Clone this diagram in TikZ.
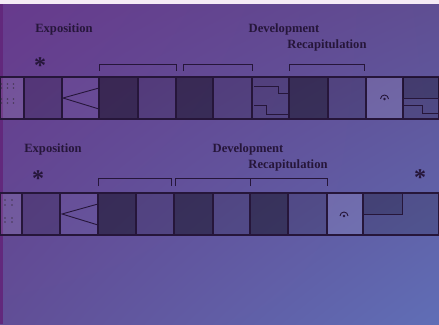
\documentclass[tikz,border=0pt]{standalone}
\usepackage{fontspec}
\setmainfont{Liberation Serif}
\usetikzlibrary{positioning,calc,shadings}
\definecolor{bgtl}{RGB}{103,58,140}
\definecolor{bgtr}{RGB}{95,78,146}
\definecolor{bgbl}{RGB}{97,78,150}
\definecolor{bgbr}{RGB}{96,110,182}
\definecolor{edgeband}{RGB}{98,40,124}
\definecolor{ink}{RGB}{38,22,58}

\begin{document}
\begin{tikzpicture}[
    x=1pt, y=-1pt,
    cell/.style={
      rectangle,
      draw=ink,
      line width=1.1pt,
      inner sep=0pt,
      outer sep=0pt,
      minimum height=42pt
    },
    darkcell/.style={fill=black, fill opacity=0.42},
    midcell/.style={fill=black, fill opacity=0.16},
    lightcell/.style={fill=white, fill opacity=0.03},
    palecell/.style={fill=white, fill opacity=0.10},
    section/.style={
      font=\fontsize{12.6}{14}\selectfont\bfseries,
      text=ink,
      inner sep=0pt
    },
    star/.style={
      font=\fontsize{24}{24}\selectfont\bfseries,
      text=ink,
      inner sep=0pt
    },
    bracketline/.style={
      draw=ink,
      line width=0.9pt
    },
    detail/.style={
      draw=ink,
      line width=0.9pt
    }
  ]

  % Background
  \useasboundingbox (0,0) rectangle (439,324);
  \shade[upper left=bgtl, upper right=bgtr, lower left=bgbl, lower right=bgbr]
    (0,0) rectangle (439,324);
  \fill[white!92!violet] (0,0) rectangle (439,4);
  \fill[edgeband] (0,4) rectangle (3,324);

  % Row 1: cells
  \foreach \name/\l/\r/\kind in {
      a1/0/24/palecell, a2/24/62/midcell, a3/62/99/lightcell,
      a4/99/138/darkcell, a5/138/176/midcell, a6/176/213/darkcell,
      a7/213/252/midcell, a8/252/289/midcell, a9/289/328/darkcell,
      a10/328/366/midcell, a11/366/403/palecell, a12/403/439/midcell}
    \node[cell,\kind, minimum width={(\r-\l)*1pt}] (\name) at ({(\l+\r)/2},98) {};

  % Row 1: cell details
  \foreach \dx in {1.5,7.5,13.5}
    \foreach \dy in {84,88,99,103}
      \fill[ink!85] (\dx,\dy) circle[radius=0.8pt];
  \draw[detail] (a3.north east) ++(0,11) -- (63,98) -- (99,109);
  \draw[detail] (254,86) -- (278,86) -- (278,93) -- (288,93);
  \draw[detail] (254,105) -- (266,105) -- (266,114) -- (288,114);
  \coordinate (ferm1) at (a11.center);
  \draw[detail,line width=0.9pt] ([xshift=-4pt,yshift=-1pt]ferm1)
    arc[start angle=180,end angle=0,radius=4pt];
  \fill[ink] ([yshift=-1pt]ferm1) circle[radius=1.3pt];
  \fill[black,fill opacity=0.14] (403,77) rectangle (439,98);
  \draw[detail] (403,98) -- (439,98);
  \draw[detail] (403,105) -- (422,105) -- (422,113) -- (439,113);

  % Row 1: brackets and labels
  \draw[bracketline] ([yshift=6pt]a4.north west) -- ++(0,-7)
    -| ([yshift=6pt]a5.north east);
  \draw[bracketline] ([xshift=7pt,yshift=6pt]a6.north west) -- ++(0,-7)
    -| ([yshift=6pt]a7.north east);
  \draw[bracketline] ([yshift=6pt]a9.north west) -- ++(0,-7)
    -| ([xshift=-2pt,yshift=6pt]a10.north east);

  \node[section] (expo1) at (64,29) {Exposition};
  \node[section] (dev1) at (284,29) {Development};
  \node[section] (recap1) at (327,45) {Recapitulation};
  \node[star] (star1) at (40,66) {*};

  % Row 2: cells
  \foreach \name/\l/\r/\kind in {
      b1/0/22/palecell, b2/22/60/midcell, b3/60/98/lightcell,
      b4/98/136/darkcell, b5/136/174/midcell, b6/174/213/darkcell,
      b7/213/250/midcell, b8/250/288/darkcell, b9/288/327/midcell,
      b10/327/363/palecell, b11/363/439/midcell}
    \node[cell,\kind, minimum width={(\r-\l)*1pt}] (\name) at ({(\l+\r)/2},214) {};

  % Row 2: cell details
  \foreach \dx in {5,12}
    \foreach \dy in {200,205,218,222}
      \fill[ink!85] (\dx,\dy) circle[radius=0.8pt];
  \draw[detail] (98,204) -- (62,214) -- (98,225);
  \coordinate (ferm2) at ([xshift=-1pt,yshift=-1pt]b10.center);
  \draw[detail,line width=0.9pt] ([xshift=-4pt,yshift=-1pt]ferm2)
    arc[start angle=180,end angle=0,radius=4pt];
  \fill[ink] ([yshift=-1pt]ferm2) circle[radius=1.3pt];
  \draw[detail,fill=black,fill opacity=0.14] (b11.north west) rectangle (402,214);

  % Row 2: brackets and labels
  \draw[bracketline] ([yshift=7pt]b4.north west) -- ++(0,-8)
    -| ([xshift=-3pt,yshift=7pt]b5.north east);
  \draw[bracketline] ([xshift=1pt,yshift=7pt]b6.north west) -- ++(0,-8)
    -| ([yshift=7pt]b9.north east);
  \draw[bracketline] ([yshift=7pt]b8.north west) -- ++(0,-8);

  \node[section] (expo2) at (53,149) {Exposition};
  \node[section] (dev2) at (248,149) {Development};
  \node[section] (recap2) at (288,165) {Recapitulation};
  \node[star] (star2) at (38,179) {*};
  \node[star] (star3) at (420,178) {*};

\end{tikzpicture}
\end{document}
